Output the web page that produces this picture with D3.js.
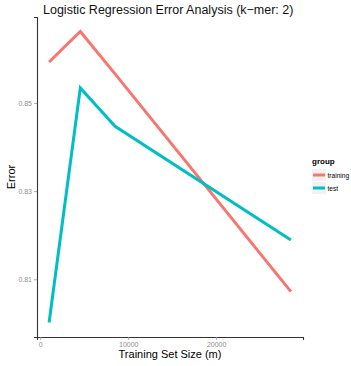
<!DOCTYPE html>
<html>
<head>
<meta charset="utf-8">
<script src="https://cdn.jsdelivr.net/npm/d3@7"></script>
<style>
  body { margin: 0; background: #fff; }
  text { font-family: "Liberation Sans", Arial, sans-serif; }
</style>
</head>
<body>
<div id="chart"></div>
<script>
// data
const trainSizes = [1000, 4550, 8500, 28500];
const trainingError = [0.8593, 0.8662, 0.8566, 0.8072];
const testError = [0.8002, 0.8534, 0.8447, 0.8189];
const groups = ["training", "test"];
const colors = ["#F8766D", "#00BFC4"];
const xTicks = [0, 10000, 20000];
const yTicks = [0.81, 0.83, 0.85];

const width = 351, height = 366;
const margin = {top: 17, right: 48, bottom: 29, left: 37};

const svg = d3.select("#chart").append("svg")
    .attr("width", width).attr("height", height);

const series = groups.map((g, i) => ({
    name: g,
    color: colors[i],
    values: trainSizes.map((m, j) => ({m: m, err: i === 0 ? trainingError[j] : testError[j]}))
}));

// ggplot-style 5% expansion
const allErr = trainingError.concat(testError);
const yMin = d3.min(allErr), yMax = d3.max(allErr);
const xMin = d3.min(trainSizes), xMax = d3.max(trainSizes);
const yPad = (yMax - yMin) * 0.05, xPad = (xMax - xMin) * 0.05;

const x = d3.scaleLinear()
    .domain([xMin - xPad, xMax + xPad])
    .range([margin.left, width - margin.right]);
const y = d3.scaleLinear()
    .domain([yMin - yPad, yMax + yPad])
    .range([height - margin.bottom, margin.top]);

// axes
const xAxis = svg.append("g")
    .attr("transform", `translate(0,${height - margin.bottom})`)
    .call(d3.axisBottom(x).tickValues(xTicks).tickFormat(d3.format("d")).tickSize(3).tickPadding(2));
const yAxis = svg.append("g")
    .attr("transform", `translate(${margin.left},0)`)
    .call(d3.axisLeft(y).tickValues(yTicks).tickFormat(d3.format(".2f")).tickSize(3).tickPadding(2));

[xAxis, yAxis].forEach(a => {
    a.select(".domain").attr("stroke", "#333").attr("stroke-width", 1.1);
    a.selectAll(".tick line").attr("stroke", "#999").attr("stroke-width", 0.8);
    a.selectAll(".tick text").attr("fill", "#8c8c8c").style("font-size", "7px");
});

// lines
const line = d3.line().x(d => x(d.m)).y(d => y(d.err));
svg.append("g").selectAll("path")
    .data(series)
    .join("path")
    .attr("d", d => line(d.values))
    .attr("fill", "none")
    .attr("stroke", d => d.color)
    .attr("stroke-width", 3);

// titles
svg.append("text")
    .attr("x", 43).attr("y", 14)
    .style("font-size", "12.5px")
    .attr("fill", "#111")
    .text("Logistic Regression Error Analysis (k\u2212mer: 2)");

svg.append("text")
    .attr("x", (x.range()[0] + x.range()[1]) / 2).attr("y", 358)
    .attr("text-anchor", "middle")
    .style("font-size", "11px")
    .text("Training Set Size (m)");

svg.append("text")
    .attr("transform", `translate(15,${(y.range()[0] + y.range()[1]) / 2}) rotate(-90)`)
    .attr("text-anchor", "middle")
    .style("font-size", "11px")
    .text("Error");

// legend
const legend = svg.append("g").attr("transform", "translate(312,164)");
legend.append("text")
    .style("font-size", "8px").style("font-weight", "bold")
    .text("group");
const item = legend.selectAll("g.item")
    .data(series)
    .join("g")
    .attr("class", "item")
    .attr("transform", (d, i) => `translate(0,${11 + i * 13})`);
item.append("rect")
    .attr("x", 0).attr("y", -6).attr("width", 14).attr("height", 12)
    .attr("fill", "#f2f2f2");
item.append("line")
    .attr("x1", 1).attr("x2", 13).attr("y1", 0).attr("y2", 0)
    .attr("stroke", d => d.color).attr("stroke-width", 3);
item.append("text")
    .attr("x", 15.5).attr("y", 2.5)
    .style("font-size", "6.6px")
    .text(d => d.name);
</script>
</body>
</html>
